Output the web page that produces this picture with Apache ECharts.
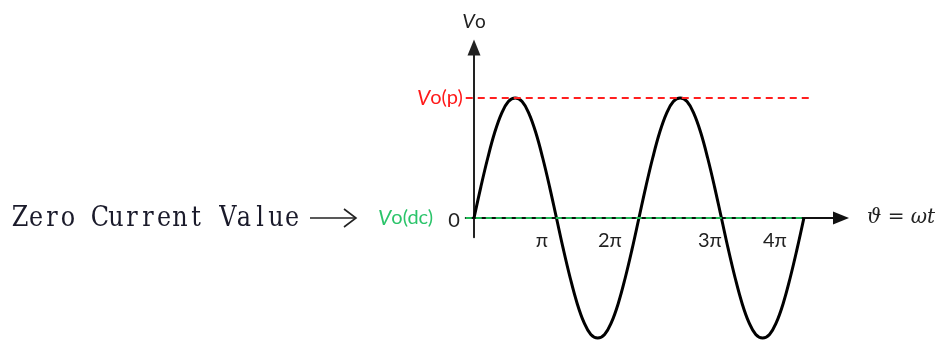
<!DOCTYPE html>
<html lang="en">
<head>
    <meta charset="UTF-8">
    <title>Half wave</title>
    <script src="https://cdn.jsdelivr.net/npm/echarts@6/dist/echarts.min.js"></script>
    <style type="text/css">
        html, body { margin: 0; padding: 0; background: #fff; }
        #box { width: 939px; height: 342px; }
    </style>
</head>
<body>
    <div id="box"></div>
</body>
</html>
<script>
    // angle in degrees, output in units of Vo(p)
    var angles = [0, 15, 30, 45, 60, 75, 90, 105, 120, 135, 150, 165,
        180, 195, 210, 225, 240, 255, 270, 285, 300, 315, 330, 345,
        360, 375, 390, 405, 420, 435, 450, 465, 480, 495, 510, 525,
        540, 555, 570, 585, 600, 615, 630, 645, 660, 675, 690, 705, 720];
    var outputs = [0, 0.26, 0.5, 0.71, 0.87, 0.97, 1, 0.97, 0.87, 0.71, 0.5, 0.26,
        0, -0.26, -0.5, -0.71, -0.87, -0.97, -1, -0.97, -0.87, -0.71, -0.5, -0.26,
        0, 0.26, 0.5, 0.71, 0.87, 0.97, 1, 0.97, 0.87, 0.71, 0.5, 0.26,
        0, -0.26, -0.5, -0.71, -0.87, -0.97, -1, -0.97, -0.87, -0.71, -0.5, -0.26, 0];
    var tickValues = [180, 360, 540, 720];
    var tickLabels = ['π', '2π', '3π', '4π'];
    var peakLevel = 1;
    var dcLevel = 0;
    var caption = 'Zero Current Value';

    var points = [];
    for (let i = 0; i < angles.length; i++) {
        points.push([angles[i], outputs[i]]);
    }

    // labels in the drawing sit a bit left of their crossing
    var tickShift = { 180: 29, 360: 58, 540: 23, 720: 58 };
    var rich = {};
    tickValues.forEach(function (v) {
        rich['t' + v] = { padding: [0, tickShift[v], 0, 0], fontSize: 20, fontFamily: 'Lato', color: '#222' };
    });

    // caption is a fixed-width serif in the original: one cell per letter
    var graphics = [];
    var cell = 16;
    for (let i = 0; i < caption.length; i++) {
        if (caption[i] === ' ') continue;
        graphics.push({
            type: 'text',
            x: 12 + cell * (i + 0.5),
            y: 219,
            scaleX: 0.92,
            scaleY: 1.1,
            style: {
                text: caption[i],
                fontFamily: 'DejaVu Serif',
                fontSize: 26,
                fill: '#1a1a2a',
                align: 'center',
                verticalAlign: 'middle'
            }
        });
    }
    graphics.push({
        type: 'line',
        shape: { x1: 310, y1: 218, x2: 355, y2: 218 },
        style: { stroke: '#222', lineWidth: 1.6 }
    });
    graphics.push({
        type: 'polyline',
        shape: { points: [[344, 209], [356, 218], [344, 227]] },
        style: { stroke: '#222', lineWidth: 1.6, fill: null }
    });

    var mychart = echarts.init(document.getElementById("box"));
    mychart.setOption({
        animation: false,
        grid: { left: 465.75, right: 98, top: 47.6, bottom: 104.8 },
        xAxis: {
            type: 'value',
            min: -18,
            max: 801,
            splitLine: { show: false },
            axisTick: { show: false },
            axisLine: {
                onZero: true,
                symbol: ['none', 'triangle'],
                symbolSize: [13, 16],
                lineStyle: { color: '#111', width: 2 }
            },
            axisLabel: {
                customValues: tickValues,
                margin: -7,
                formatter: function (v) {
                    var i = tickValues.indexOf(v);
                    return '{t' + v + '|' + tickLabels[i] + '}';
                },
                rich: rich
            },
            name: 'ϑ = ωt',
            nameLocation: 'end',
            nameGap: 26,
            nameTextStyle: {
                fontSize: 20,
                color: '#222',
                fontStyle: 'italic',
                fontFamily: 'DejaVu Serif'
            }
        },
        yAxis: {
            type: 'value',
            min: -0.16,
            max: 1.42,
            splitLine: { show: false },
            axisTick: { show: false },
            axisLine: {
                onZero: true,
                symbol: ['none', 'triangle'],
                symbolSize: [13, 16],
                lineStyle: { color: '#222', width: 2 }
            },
            axisLabel: {
                customValues: [dcLevel, peakLevel],
                margin: 3,
                formatter: function (v) {
                    if (v === peakLevel) return '{ri|V}{r|o(p)}';
                    return '{gi|V}{g|o(dc)}{z|0}';
                },
                rich: {
                    ri: { color: '#ff1a1a', fontStyle: 'italic', fontSize: 21, fontFamily: 'Lato' },
                    r: { color: '#ff1a1a', fontSize: 20, fontFamily: 'Lato' },
                    gi: { color: '#2bc46a', fontStyle: 'italic', fontSize: 21, fontFamily: 'Lato' },
                    g: { color: '#2bc46a', fontSize: 20, fontFamily: 'Lato' },
                    z: { color: '#222', fontSize: 20, fontFamily: 'Lato', padding: [6, 3, 0, 15] }
                }
            },
            name: '{i|V}o',
            nameLocation: 'end',
            nameGap: 16,
            nameTextStyle: {
                fontSize: 19,
                color: '#222',
                fontFamily: 'Lato',
                align: 'center',
                rich: { i: { fontSize: 20, fontStyle: 'italic', fontFamily: 'Lato', color: '#222' } }
            }
        },
        series: [{
            type: 'line',
            data: points,
            smooth: 0.4,
            clip: false,
            symbol: 'none',
            lineStyle: { color: '#000', width: 3 },
            markLine: {
                silent: true,
                symbol: 'none',
                label: { show: false },
                data: [
                    [{ coord: [-18, dcLevel], lineStyle: { color: '#1db954', type: [6, 4], width: 2 } }, { coord: [720, dcLevel] }],
                    [{ coord: [-18, peakLevel], lineStyle: { color: '#ff2020', type: [7, 5], width: 2 } }, { coord: [738, peakLevel] }]
                ]
            }
        }],
        graphic: graphics
    });
</script>
